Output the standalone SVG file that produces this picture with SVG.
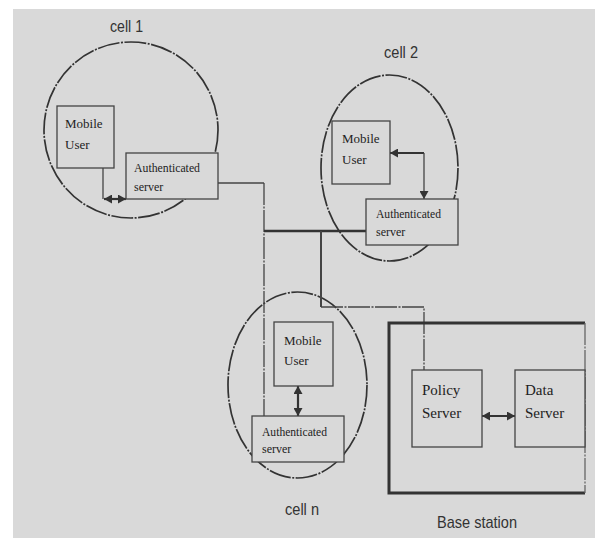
<svg xmlns="http://www.w3.org/2000/svg" width="595" height="538" viewBox="0 0 595 538">
<defs>
<marker id="ah" markerUnits="userSpaceOnUse" markerWidth="9" markerHeight="9" refX="8" refY="4.5" orient="auto-start-reverse">
<path d="M0,0 L8,4.5 L0,9 z" fill="#333"/>
</marker>
<style>
.cell{fill:none;stroke:#333;stroke-width:1.7;stroke-dasharray:22 1.5 2 1.5}
.box{fill:#d9d9d9;stroke:#444;stroke-width:1.3}
.ln{fill:none;stroke:#444;stroke-width:1.3}
.dd{fill:none;stroke:#444;stroke-width:1.3;stroke-dasharray:22 1.5 2 1.5}
.thick{fill:none;stroke:#333;stroke-width:2.5}
.arr{fill:none;stroke:#333;stroke-width:2.2}
.bt{font-family:"Liberation Serif","Times New Roman",serif;fill:#222}
.lab{font-family:"Liberation Sans",Arial,sans-serif;fill:#333}
</style>
</defs>
<rect x="0" y="0" width="595" height="538" fill="#ffffff"/>
<rect x="13" y="9" width="582" height="529" fill="#d9d9d9"/>

<g id="cells">
<ellipse class="cell" cx="131" cy="130" rx="87" ry="88"/>
<ellipse class="cell" cx="389.5" cy="168" rx="68.5" ry="93"/>
<ellipse class="cell" cx="297.5" cy="385" rx="69.5" ry="93"/>
</g>

<g id="connectors">
<path class="ln" d="M218,183 H264"/>
<path class="dd" d="M264,183 V416"/>
<path class="thick" d="M264,231 H366"/>
<path class="ln" d="M321,231 V307" style="stroke-width:2"/>
<path class="dd" d="M321,307 H424 V370"/>
<path class="ln" d="M103,168 V199"/>
<path class="arr" d="M104,199 H126" marker-start="url(#ah)" marker-end="url(#ah)"/>
<path class="arr" d="M390,153 H424" marker-start="url(#ah)"/>
<path class="ln" d="M424,153 V199" marker-end="url(#ah)"/>
<path class="arr" d="M298,386 V416" marker-start="url(#ah)" marker-end="url(#ah)"/>
<path class="arr" d="M482,416 H515" marker-start="url(#ah)" marker-end="url(#ah)"/>
</g>

<g id="cell1">
<text class="lab" x="110" y="32" font-size="17" textLength="33" lengthAdjust="spacingAndGlyphs">cell 1</text>
</g>
<g id="mu1">
<rect class="box" x="57" y="106" width="57" height="62"/>
<text class="bt" x="65" y="128" font-size="13">Mobile</text>
<text class="bt" x="65" y="149" font-size="13">User</text>
</g>
<g id="as1">
<rect class="box" x="126" y="153" width="92" height="46"/>
<text class="bt" x="134" y="172" font-size="12" textLength="66" lengthAdjust="spacingAndGlyphs">Authenticated</text>
<text class="bt" x="134" y="191" font-size="12">server</text>
</g>

<g id="cell2">
<text class="lab" x="384" y="58" font-size="17" textLength="34" lengthAdjust="spacingAndGlyphs">cell 2</text>
</g>
<g id="mu2">
<rect class="box" x="332" y="121" width="58" height="63"/>
<text class="bt" x="342" y="143" font-size="13">Mobile</text>
<text class="bt" x="342" y="164" font-size="13">User</text>
</g>
<g id="as2">
<rect class="box" x="366" y="199" width="92" height="46"/>
<text class="bt" x="376" y="218" font-size="12" textLength="65" lengthAdjust="spacingAndGlyphs">Authenticated</text>
<text class="bt" x="376" y="236" font-size="12">server</text>
</g>

<g id="celln">
<text class="lab" x="285" y="515" font-size="17" textLength="34" lengthAdjust="spacingAndGlyphs">cell n</text>
</g>
<g id="mun">
<rect class="box" x="274" y="322" width="59" height="64"/>
<text class="bt" x="284" y="345" font-size="13">Mobile</text>
<text class="bt" x="284" y="365" font-size="13">User</text>
</g>
<g id="asn">
<rect class="box" x="252" y="416" width="92" height="46"/>
<text class="bt" x="262" y="436" font-size="12" textLength="65" lengthAdjust="spacingAndGlyphs">Authenticated</text>
<text class="bt" x="262" y="453" font-size="12">server</text>
</g>

<g id="base">
<path d="M585,323 H389 V493 H585" fill="none" stroke="#333" stroke-width="3"/>
<path d="M585,323 V493" fill="none" stroke="#666" stroke-width="1.3" stroke-dasharray="22 1.5 2 1.5"/>
<text class="lab" x="437" y="528" font-size="17" textLength="80" lengthAdjust="spacingAndGlyphs">Base station</text>
</g>
<g id="policy">
<rect class="box" x="412" y="370" width="70" height="77"/>
<text class="bt" x="422" y="395" font-size="15">Policy</text>
<text class="bt" x="422" y="418" font-size="15">Server</text>
</g>
<g id="data">
<rect class="box" x="515" y="370" width="70" height="77"/>
<text class="bt" x="525" y="395" font-size="15">Data</text>
<text class="bt" x="525" y="418" font-size="15">Server</text>
</g>
</svg>
